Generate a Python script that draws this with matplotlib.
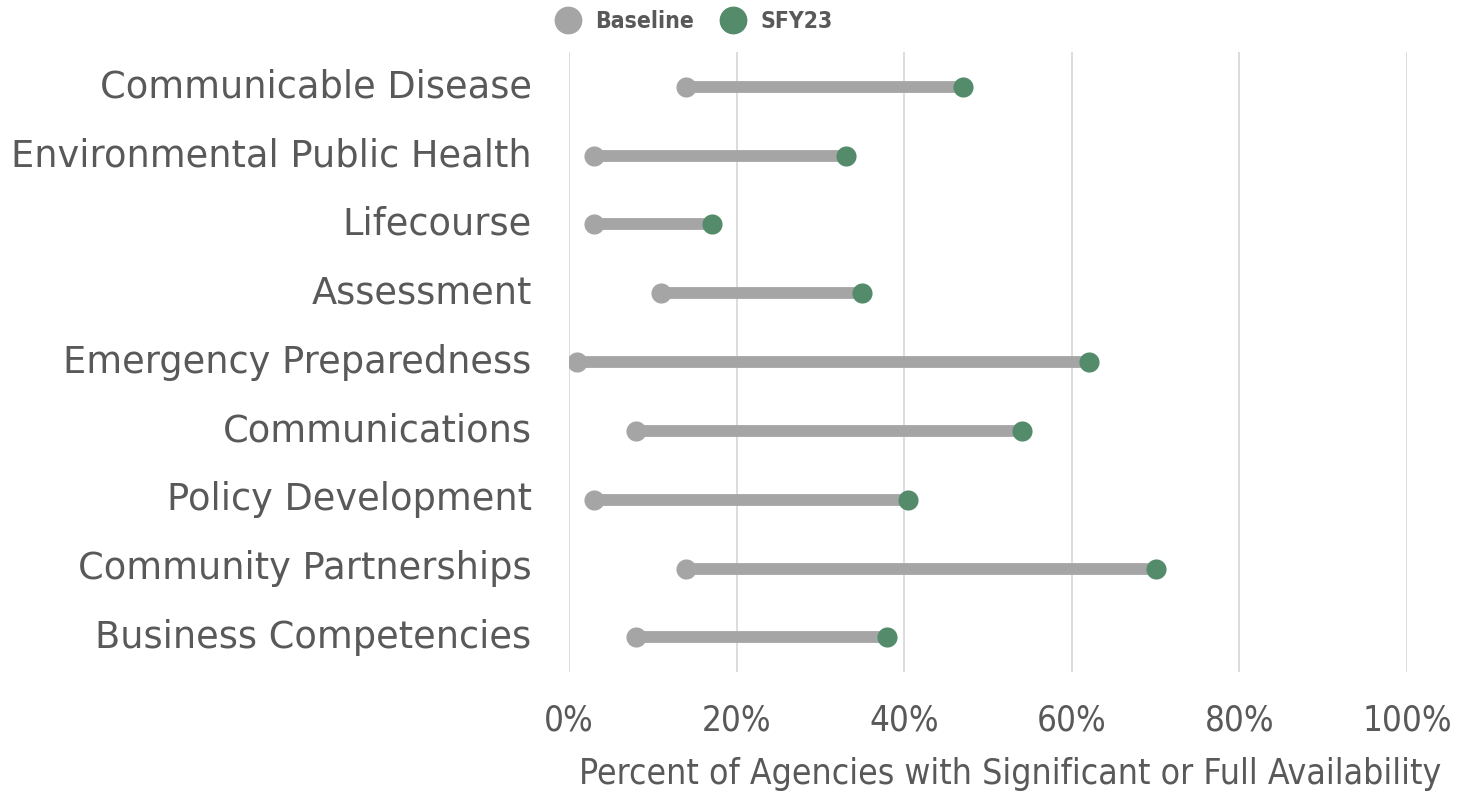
import matplotlib.pyplot as plt
import numpy as np
from matplotlib.lines import Line2D

categories = ["Communicable Disease", "Environmental Public Health", "Lifecourse",
              "Assessment", "Emergency Preparedness", "Communications",
              "Policy Development", "Community Partnerships", "Business Competencies"]
baseline = [14, 3, 3, 11, 1, 8, 3, 14, 8]
sfy23 = [47, 33, 17, 35, 62, 54, 40.5, 70, 38]
xticks = [0, 20, 40, 60, 80, 100]

grey = "#A5A5A5"
green = "#548B6A"
txt = "#595959"

fig = plt.figure(figsize=(14.63, 7.94), dpi=100)
ax = fig.add_axes([0.389, 0.154, 0.9617 - 0.389, 0.934 - 0.154])

y = np.arange(len(categories))
for yi, b, s in zip(y, baseline, sfy23):
    ax.plot([b, s], [yi, yi], color=grey, lw=8.5, solid_capstyle="butt", zorder=2)
ax.scatter(baseline, y, s=210, color=grey, zorder=3, linewidths=0)
ax.scatter(sfy23, y, s=210, color=green, zorder=4, linewidths=0)

ax.set_xlim(0, 100)
ax.set_ylim(len(categories) - 0.5, -0.5)
ax.set_xticks(xticks)
ax.set_xticklabels([f"{t}%" for t in xticks], fontsize=25, color=txt,
                   family="DejaVu Sans", stretch="condensed")
ax.set_yticks(y)
ax.set_yticklabels(categories, fontsize=26.5, color=txt, family="DejaVu Sans",
                   va="center")
ax.tick_params(axis="y", length=0, pad=27)
ax.tick_params(axis="x", length=0, pad=23)
ax.grid(axis="x", color="#D9D9D9", lw=1.3)
ax.set_axisbelow(True)
for sp in ax.spines.values():
    sp.set_visible(False)
ax.set_xlabel("Percent of Agencies with Significant or Full Availability",
              fontsize=25.5, color=txt, family="DejaVu Sans", stretch="condensed")
ax.xaxis.set_label_coords(0.527, -0.137)

handles = [Line2D([], [], ls="", marker="o", ms=19, color=grey, label="Baseline"),
           Line2D([], [], ls="", marker="o", ms=19, color=green, label="SFY23")]
leg = fig.legend(handles=handles, loc="center", bbox_to_anchor=(0.471, 0.973), ncol=2,
                 frameon=False, handletextpad=0.2, columnspacing=0.7,
                 prop={"family": "DejaVu Sans", "stretch": "condensed",
                       "weight": "bold", "size": 16.5})
for t in leg.get_texts():
    t.set_color(txt)

fig.savefig("out.png", dpi=100)
